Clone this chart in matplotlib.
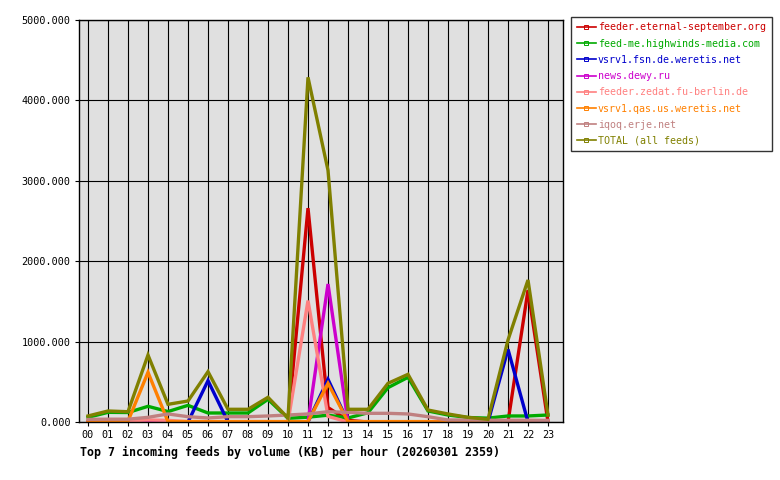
import matplotlib
matplotlib.use('Agg')
import matplotlib.pyplot as plt
import numpy as np

# hours of the day
hours = ['%02d' % h for h in range(24)]

# series values (KB per hour)
eternal_september = [0, 0, 0, 0, 0, 0, 0, 0, 0, 0, 0, 2660, 180, 20, 0, 0, 0, 0, 0, 0, 0, 0, 1640, 0]
highwinds = [58, 120, 118, 195, 130, 207, 112, 112, 112, 282, 46, 60, 85, 50, 115, 427, 556, 137, 87, 56, 48, 75, 75, 87]
fsn_weretis = [0, 0, 0, 0, 0, 0, 514, 0, 0, 0, 0, 0, 531, 0, 0, 0, 0, 0, 0, 0, 0, 904, 0, 0]
dewy = [0, 0, 0, 0, 0, 0, 0, 0, 0, 0, 0, 0, 1716, 0, 0, 0, 0, 0, 0, 0, 0, 0, 0, 0]
zedat = [10, 10, 15, 25, 20, 5, 5, 5, 5, 5, 0, 1510, 70, 0, 0, 0, 0, 0, 0, 0, 0, 0, 0, 0]
qas_weretis = [10, 10, 10, 618, 5, 5, 5, 5, 5, 5, 5, 5, 481, 5, 5, 5, 5, 5, 0, 0, 0, 0, 0, 0]
erje = [33, 35, 35, 58, 100, 66, 50, 66, 66, 75, 87, 100, 128, 120, 108, 108, 100, 66, 25, 25, 22, 22, 22, 20]
total = [75, 137, 128, 833, 220, 261, 626, 158, 158, 307, 50, 4287, 3130, 158, 158, 481, 593, 149, 100, 58, 33, 1020, 1766, 87]

series = [
    ('feeder.eternal-september.org', eternal_september, '#cc0000'),
    ('feed-me.highwinds-media.com', highwinds, '#00aa00'),
    ('vsrv1.fsn.de.weretis.net', fsn_weretis, '#0000cc'),
    ('news.dewy.ru', dewy, '#cc00cc'),
    ('feeder.zedat.fu-berlin.de', zedat, '#ff8080'),
    ('vsrv1.qas.us.weretis.net', qas_weretis, '#ff8000'),
    ('iqoq.erje.net', erje, '#c08080'),
    ('TOTAL (all feeds)', total, '#808000'),
]

mono = 'DejaVu Sans Mono'
plt.rcParams['font.family'] = mono

W, H = 780, 480
fig = plt.figure(figsize=(W / 100, H / 100), dpi=100)
fig.patch.set_facecolor('white')
ax = fig.add_axes([79 / W, 1 - 422 / H, (563 - 79) / W, (422 - 20) / H])
ax.set_facecolor('#e0e0e0')

x = np.arange(len(hours))
for name, vals, col in series:
    ax.plot(x, vals, color=col, lw=2.4, label=name, solid_joinstyle='miter')

ax.set_xlim(-0.45, 23.75)
ax.set_ylim(0, 5000)
ax.set_xticks(x)
ax.set_xticklabels(hours)
ax.set_yticks(np.arange(0, 5001, 1000))
ax.set_yticklabels(['%.3f' % v for v in np.arange(0, 5001, 1000)])
ax.grid(True, color='black', lw=0.8)
ax.set_axisbelow(True)
for s in ax.spines.values():
    s.set_color('black')
    s.set_linewidth(1.0)
ax.tick_params(axis='both', direction='out', length=3, width=0.8, color='black',
               labelsize=7.3, pad=3)

# legend, text coloured like the lines
handles = [plt.Line2D([0], [0], color=col, lw=1.2, marker='s', markersize=2.2,
                      markerfacecolor='none', markeredgewidth=0.7)
           for _, _, col in series]
leg = fig.legend(handles, [n for n, _, _ in series], loc='upper left',
                 bbox_to_anchor=(571 / W, 1 - 17 / H), fontsize=7.2,
                 labelcolor=[c for _, _, c in series], frameon=True, fancybox=False,
                 handlelength=1.9, handletextpad=0.25, labelspacing=0.62,
                 borderpad=0.55, borderaxespad=0)
leg.get_frame().set_edgecolor('black')
leg.get_frame().set_linewidth(1.0)

fig.text(80 / W, 1 - 452 / H, 'Top 7 incoming feeds by volume (KB) per hour (20260301 2359)',
         fontsize=8.4, fontweight='bold', va='center', ha='left', family=mono)

fig.savefig('out.png', dpi=100)
